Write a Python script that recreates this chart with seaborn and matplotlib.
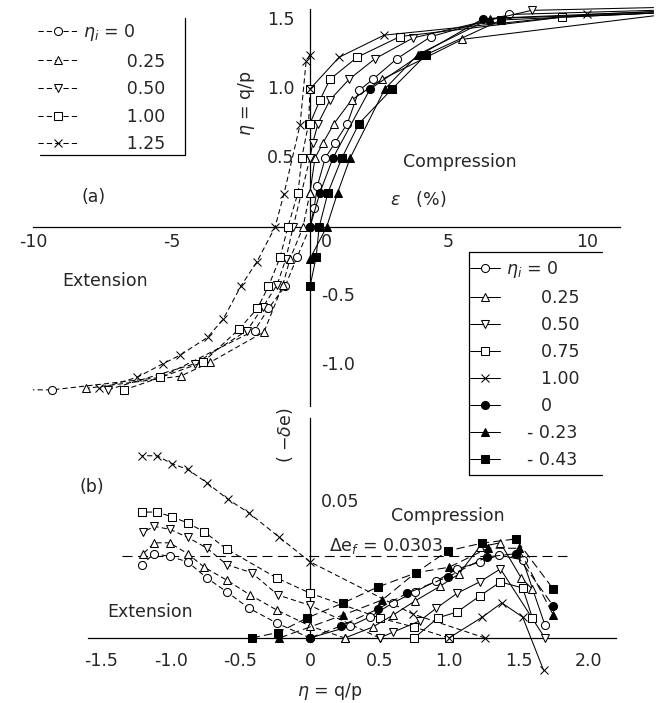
import numpy as np
import seaborn as sns
import matplotlib.pyplot as plt
from matplotlib.lines import Line2D
from matplotlib.ticker import FixedLocator

# ---------------- (a) eta = q/p against strain eps (%) ----------------
# compression tests (solid), last point = line end without marker
a_c0_eps = [0, 0.15, 0.27, 0.55, 0.9, 1.35, 1.77, 2.27, 3.14, 4.37, 7.2, 12.4]
a_c0_eta = [0, 0.14, 0.30, 0.50, 0.61, 0.75, 0.99, 1.07, 1.22, 1.38, 1.54, 1.57]
a_t025_eps = [0, 0.18, 0.47, 0.87, 1.5, 2.6, 5.5, 12.4]
a_t025_eta = [0.25, 0.50, 0.61, 0.75, 0.92, 1.07, 1.36, 1.53]
a_v050_eps = [0, 0.1, 0.29, 0.72, 1.41, 2.35, 3.72, 8.0, 12.4]
a_v050_eta = [0.50, 0.61, 0.75, 0.92, 1.07, 1.22, 1.37, 1.57, 1.59]
a_s075_eps = [0, 0.36, 0.72, 1.7, 3.25, 9.1, 12.4]
a_s075_eta = [0.75, 0.92, 1.07, 1.23, 1.38, 1.52, 1.55]
a_x100_eps = [0, 1.05, 2.67, 10.0, 12.4]
a_x100_eta = [1.00, 1.23, 1.39, 1.54, 1.56]
a_fc0_eps = [0, 0.36, 0.83, 2.17, 4.0, 6.25, 12.4]
a_fc0_eta = [0, 0.25, 0.50, 1.00, 1.25, 1.51, 1.56]
a_ft023_eps = [0, 0.6, 1.0, 1.45, 2.7, 3.9, 6.5, 12.4]
a_ft023_eta = [-0.23, 0, 0.25, 0.50, 1.00, 1.25, 1.51, 1.55]
a_fs043_eps = [0, 0.22, 0.33, 0.65, 1.15, 1.77, 2.96, 4.2, 6.9, 12.4]
a_fs043_eta = [-0.43, -0.22, 0, 0.25, 0.50, 0.75, 1.00, 1.25, 1.50, 1.55]

# extension tests (dashed)
a_ex_c0_eps = [0, -0.47, -0.9, -1.5, -2.0, -5.4, -9.3, -10.0]
a_ex_c0_eta = [0, -0.22, -0.43, -0.59, -0.75, -1.09, -1.18, -1.18]
a_ex_t025_eps = [0, -0.25, -0.72, -0.98, -1.66, -3.6, -4.66, -8.1]
a_ex_t025_eta = [0.25, 0, -0.23, -0.42, -0.76, -0.98, -1.08, -1.17]
a_ex_v050_eps = [0, -0.61, -0.87, -1.19, -1.7, -2.27, -4.15, -7.3]
a_ex_v050_eta = [0.50, 0, -0.23, -0.42, -0.58, -0.75, -0.99, -1.18]
a_ex_s100_eps = [0, -0.05, -0.3, -0.43, -0.8, -1.08, -1.5, -1.9, -2.56, -3.86, -5.4, -6.7]
a_ex_s100_eta = [1.00, 0.75, 0.50, 0.25, 0, -0.22, -0.43, -0.59, -0.74, -0.98, -1.09, -1.18]
a_ex_x125_eps = [0, -0.14, -0.36, -0.94, -1.26, -1.91, -2.5, -3.14, -3.7, -4.7, -5.3, -6.25, -7.6]
a_ex_x125_eta = [1.25, 1.20, 0.74, 0.24, 0, -0.25, -0.43, -0.67, -0.80, -0.93, -0.99, -1.09, -1.17]

# ---------------- (b) -delta e against eta ----------------
b_c0_eta = [0, 0.29, 0.43, 0.60, 0.755, 0.91, 1.06, 1.22, 1.36, 1.53, 1.69]
b_c0_de = [0, 0.0044, 0.0077, 0.013, 0.017, 0.021, 0.0254, 0.0279, 0.0305, 0.0287, 0.0048]
b_t025_eta = [0.25, 0.45, 0.60, 0.755, 0.935, 1.07, 1.22, 1.37, 1.52, 1.60]
b_t025_de = [0, 0.004, 0.0085, 0.0136, 0.019, 0.0235, 0.0335, 0.035, 0.022, 0.018]
b_v050_eta = [0.50, 0.60, 0.79, 0.91, 1.06, 1.22, 1.37, 1.69]
b_v050_de = [0, 0.0022, 0.0063, 0.011, 0.0165, 0.0206, 0.0254, 0.0]
b_s075_eta = [0.75, 0.92, 1.06, 1.22, 1.37, 1.53, 1.60]
b_s075_de = [0, 0.0074, 0.0096, 0.0154, 0.0206, 0.0184, 0.0074]
b_x100_eta = [1.00, 1.24, 1.38, 1.53, 1.68]
b_x100_de = [0, 0.0077, 0.0129, 0.0077, -0.0118]
b_fc0_eta = [0, 0.22, 0.49, 0.70, 0.99, 1.27, 1.48, 1.75]
b_fc0_de = [0, 0.0044, 0.0107, 0.0165, 0.0224, 0.0298, 0.031, 0.0118]
b_ft023_eta = [-0.22, 0.24, 0.52, 0.76, 1.0, 1.28, 1.50, 1.75]
b_ft023_de = [0, 0.0085, 0.014, 0.024, 0.026, 0.033, 0.033, 0.0085]
b_fs043_eta = [-0.42, -0.23, -0.02, 0.24, 0.49, 0.76, 0.99, 1.24, 1.48, 1.75]
b_fs043_de = [0, 0.002, 0.0074, 0.0129, 0.0188, 0.0239, 0.032, 0.0349, 0.0364, 0.018]

b_ex_c0_eta = [0, -0.24, -0.44, -0.60, -0.74, -0.88, -1.01, -1.12, -1.21]
b_ex_c0_de = [0, 0.0055, 0.011, 0.017, 0.022, 0.028, 0.030, 0.031, 0.027]
b_ex_t025_eta = [0.25, 0, -0.24, -0.43, -0.60, -0.76, -0.88, -1.01, -1.12, -1.20]
b_ex_t025_de = [0, 0.0044, 0.0103, 0.0158, 0.0213, 0.026, 0.031, 0.035, 0.035, 0.031]
b_ex_v050_eta = [0.50, 0, -0.23, -0.42, -0.60, -0.74, -0.88, -1.01, -1.12, -1.20]
b_ex_v050_de = [0, 0.012, 0.0158, 0.024, 0.027, 0.033, 0.037, 0.040, 0.041, 0.039]
b_ex_s100_eta = [1.00, 0.75, 0.50, 0, -0.24, -0.60, -0.76, -0.88, -0.99, -1.10, -1.21]
b_ex_s100_de = [0, 0.004, 0.0074, 0.0165, 0.0221, 0.0327, 0.039, 0.0423, 0.0445, 0.0463, 0.0463]
b_ex_x125_eta = [1.26, 0.74, 0, -0.22, -0.44, -0.59, -0.74, -0.88, -0.99, -1.10, -1.21]
b_ex_x125_de = [0, 0.0088, 0.028, 0.037, 0.046, 0.051, 0.057, 0.062, 0.064, 0.067, 0.067]

delta_ef = 0.0303
delta_ef_span = [-1.35, 1.85]

# legends
ext_labels = ["$\\eta_i$ = 0", "0.25", "0.50", "1.00", "1.25"]
comp_labels = ["$\\eta_i$ = 0", "0.25", "0.50", "0.75", "1.00", "0", "- 0.23", "- 0.43"]

# ticks
a_xticks = [-10, -5, 5, 10]
a_xticklabels = ["-10", "-5", "5", "10"]
a_yticks_pos = [0.5, 1.0, 1.5]
a_yticks_neg = [-0.5, -1.0]
b_xticks = [-1.5, -1.0, -0.5, 0, 0.5, 1.0, 1.5, 2.0]
b_xticklabels = ["-1.5", "-1.0", "-0.5", "0", "0.5", "1.0", "1.5", "2.0"]

# ---------------------------------------------------------------------------
sns.set_style("white")
plt.rcParams["font.family"] = ["DejaVu Sans"]
FS = 12.5
MS = 5.8
W, H = 659, 703

fig = plt.figure(figsize=(W / 100, H / 100), dpi=100)


def fx(px):
    return px / W


def fy(py):
    return 1 - py / H


ax_a = fig.add_axes([0, fy(410), 1, 410 / H])
ax_b = fig.add_axes([0, 0, 1, fy(410)])
ax_a.set_xlim(-310 / 27.7, 349 / 27.7)
ax_a.set_ylim(-183 / 138, 227 / 138)
ax_b.set_xlim(-310 / 139, 349 / 139)
ax_b.set_ylim(-65 / 2720, 228 / 2720)

OPEN, FILL = False, True
SOLID = "-"
DASH = (0, (5, 3))
LDASH = (0, (8, 4))


def curve(ax, x, y, marker, filled, ls, tail=False):
    kw = dict(x=x, y=y, ax=ax, sort=False, estimator=None, color="black",
              linewidth=0.75, linestyle=ls, marker=marker, markersize=MS,
              markerfacecolor="black" if filled else "white",
              mec="black", mew=0.75, clip_on=False, zorder=3)
    if tail:
        kw["markevery"] = slice(0, len(x) - 1)
    sns.lineplot(**kw)


# panel (a)
curve(ax_a, a_ex_c0_eps, a_ex_c0_eta, "o", OPEN, DASH, tail=True)
curve(ax_a, a_ex_t025_eps, a_ex_t025_eta, "^", OPEN, DASH)
curve(ax_a, a_ex_v050_eps, a_ex_v050_eta, "v", OPEN, DASH)
curve(ax_a, a_ex_s100_eps, a_ex_s100_eta, "s", OPEN, DASH)
curve(ax_a, a_ex_x125_eps, a_ex_x125_eta, "x", OPEN, DASH)
curve(ax_a, a_c0_eps, a_c0_eta, "o", OPEN, SOLID, tail=True)
curve(ax_a, a_t025_eps, a_t025_eta, "^", OPEN, SOLID, tail=True)
curve(ax_a, a_v050_eps, a_v050_eta, "v", OPEN, SOLID, tail=True)
curve(ax_a, a_s075_eps, a_s075_eta, "s", OPEN, SOLID, tail=True)
curve(ax_a, a_x100_eps, a_x100_eta, "x", OPEN, SOLID, tail=True)
curve(ax_a, a_fc0_eps, a_fc0_eta, "o", FILL, SOLID, tail=True)
curve(ax_a, a_ft023_eps, a_ft023_eta, "^", FILL, SOLID, tail=True)
curve(ax_a, a_fs043_eps, a_fs043_eta, "s", FILL, SOLID, tail=True)

# panel (b)
curve(ax_b, b_ex_c0_eta, b_ex_c0_de, "o", OPEN, DASH)
curve(ax_b, b_ex_t025_eta, b_ex_t025_de, "^", OPEN, DASH)
curve(ax_b, b_ex_v050_eta, b_ex_v050_de, "v", OPEN, DASH)
curve(ax_b, b_ex_s100_eta, b_ex_s100_de, "s", OPEN, DASH)
curve(ax_b, b_ex_x125_eta, b_ex_x125_de, "x", OPEN, DASH)
curve(ax_b, b_c0_eta, b_c0_de, "o", OPEN, SOLID)
curve(ax_b, b_t025_eta, b_t025_de, "^", OPEN, SOLID)
curve(ax_b, b_v050_eta, b_v050_de, "v", OPEN, SOLID)
curve(ax_b, b_s075_eta, b_s075_de, "s", OPEN, SOLID)
curve(ax_b, b_x100_eta, b_x100_de, "x", OPEN, SOLID)
curve(ax_b, b_fc0_eta, b_fc0_de, "o", FILL, LDASH)
curve(ax_b, b_ft023_eta, b_ft023_de, "^", FILL, LDASH)
curve(ax_b, b_fs043_eta, b_fs043_de, "s", FILL, LDASH)
ax_b.plot(delta_ef_span, [delta_ef, delta_ef], color="black", lw=0.8,
          linestyle=(0, (9, 5)))

# axes through the origin
for ax in (ax_a, ax_b):
    ax.spines["top"].set_visible(False)
    ax.spines["right"].set_visible(False)
    ax.spines["left"].set_position(("data", 0))
    ax.spines["bottom"].set_position(("data", 0))
    for s in ("left", "bottom"):
        ax.spines[s].set_linewidth(0.9)
        ax.spines[s].set_color("black")
    ax.set_xlabel("")
    ax.set_ylabel("")
    ax.patch.set_alpha(0)
    ax.tick_params(labelleft=False, labelbottom=False, color="black", width=0.9)

ax_a.spines["bottom"].set_bounds(-10, 11.2)
ax_a.spines["left"].set_bounds(-1.3, 1.58)
ax_a.xaxis.set_major_locator(FixedLocator([-10, -5, 0, 5, 10, 11.2]))
ax_a.xaxis.set_minor_locator(FixedLocator(np.arange(-10, 12)))
ax_a.yaxis.set_major_locator(FixedLocator([-1.0, -0.5, 0, 0.5, 1.0, 1.5, 1.58]))
ax_a.yaxis.set_minor_locator(FixedLocator(np.arange(-1.3, 1.6, 0.1)))
ax_a.tick_params(axis="x", which="major", direction="in", length=8)
ax_a.tick_params(axis="x", which="minor", direction="in", length=3)
ax_a.tick_params(axis="y", which="major", direction="inout", length=12)
ax_a.tick_params(axis="y", which="minor", direction="inout", length=6)

ax_b.spines["bottom"].set_bounds(-1.6, 2.2)
ax_b.spines["left"].set_bounds(0, 0.081)
ax_b.xaxis.set_major_locator(FixedLocator([-1.5, -1.0, -0.5, 0, 0.5, 1.0, 1.5, 2.0]))
ax_b.xaxis.set_minor_locator(FixedLocator(np.arange(-1.6, 2.25, 0.1)))
ax_b.yaxis.set_major_locator(FixedLocator(np.arange(0.01, 0.085, 0.01)))
ax_b.tick_params(axis="x", which="major", direction="inout", length=14)
ax_b.tick_params(axis="x", which="minor", direction="inout", length=6)
ax_b.tick_params(axis="y", which="major", direction="inout", length=12)

# tick labels
for v, lab in zip(a_xticks, a_xticklabels):
    ax_a.annotate(lab, (v, 0), xytext=(0, -4), textcoords="offset points",
                  ha="center", va="top", fontsize=FS)
ax_a.annotate("0", (0, 0), xytext=(12, -4), textcoords="offset points",
              ha="center", va="top", fontsize=FS)
for v in a_yticks_pos:
    ax_a.annotate(f"{v:.1f}", (0, v), xytext=(-11, 0), textcoords="offset points",
                  ha="right", va="center", fontsize=FS)
for v in a_yticks_neg:
    ax_a.annotate(f"{v:.1f}", (0, v), xytext=(8, 0), textcoords="offset points",
                  ha="left", va="center", fontsize=FS)
for v, lab in zip(b_xticks, b_xticklabels):
    ax_b.annotate(lab, (v, 0), xytext=(0, -10), textcoords="offset points",
                  ha="center", va="top", fontsize=FS)
ax_b.annotate("0.05", (0, 0.05), xytext=(8, 0), textcoords="offset points",
              ha="left", va="center", fontsize=FS)

# axis titles and annotations
ax_a.text(-2.3, 0.9, "$\\eta$ = q/p", rotation=90, ha="center", va="center", fontsize=FS)
ax_a.text(3.9, 0.2, "$\\epsilon$   (%)", ha="center", va="center", fontsize=FS)
ax_a.text(5.4, 0.47, "Compression", ha="center", va="center", fontsize=FS)
ax_a.text(-7.4, -0.39, "Extension", ha="center", va="center", fontsize=FS)
ax_a.text(-7.8, 0.22, "(a)", ha="center", va="center", fontsize=FS)

ax_b.text(-0.18, 0.0746, "( $-\\delta$e)", rotation=90, ha="center", va="center", fontsize=FS)
ax_b.text(-1.57, 0.0555, "(b)", ha="center", va="center", fontsize=FS)
ax_b.text(0.99, 0.045, "Compression", ha="center", va="center", fontsize=FS)
ax_b.text(0.55, 0.034, "$\\Delta$e$_f$ = 0.0303", ha="center", va="center", fontsize=FS)
ax_b.text(-1.15, 0.0096, "Extension", ha="center", va="center", fontsize=FS)
ax_b.text(0.14, -0.0195, "$\\eta$ = q/p", ha="center", va="center", fontsize=FS)


# legends
def handle(marker, filled, ls):
    return Line2D([], [], color="black", lw=0.75, linestyle=ls, marker=marker,
                  markersize=MS, markerfacecolor="black" if filled else "white",
                  markeredgecolor="black", mew=0.75)


ext_handles = [handle("o", OPEN, DASH), handle("^", OPEN, DASH), handle("v", OPEN, DASH),
               handle("s", OPEN, DASH), handle("x", OPEN, DASH)]
comp_handles = [handle("o", OPEN, SOLID), handle("^", OPEN, SOLID), handle("v", OPEN, SOLID),
                handle("s", OPEN, SOLID), handle("x", OPEN, SOLID), handle("o", FILL, SOLID),
                handle("^", FILL, SOLID), handle("s", FILL, SOLID)]

EN = "\u2002"
pad_ext = ["{}"] + [EN * 5 + "{}"] * 4
leg1 = fig.legend(ext_handles, [p.format(l) for p, l in zip(pad_ext, ext_labels)],
                  loc="upper left", bbox_to_anchor=(fx(38), fy(22)), frameon=False,
                  fontsize=FS, handlelength=2.3, handletextpad=0.3,
                  labelspacing=0.55, borderaxespad=0, borderpad=0)
pad_comp = ["{}"] + [EN * 4 + "{}"] * 5 + [EN * 2 + "\u2009{}"] * 2
leg2 = fig.legend(comp_handles, [p.format(l) for p, l in zip(pad_comp, comp_labels)],
                  loc="upper left", bbox_to_anchor=(fx(470), fy(259)), frameon=False,
                  fontsize=FS, handlelength=1.7, handletextpad=0.4,
                  labelspacing=0.52, borderaxespad=0, borderpad=0)

# legend box edges
for xs, ys in [([185, 185], [18, 155]), ([40, 185], [155, 155]),
               ([469, 602], [252, 252]), ([469, 469], [252, 475]),
               ([469, 602], [475, 475])]:
    fig.add_artist(Line2D([fx(v) for v in xs], [fy(v) for v in ys],
                          color="black", lw=0.9))

fig.savefig("out.png", dpi=100)
